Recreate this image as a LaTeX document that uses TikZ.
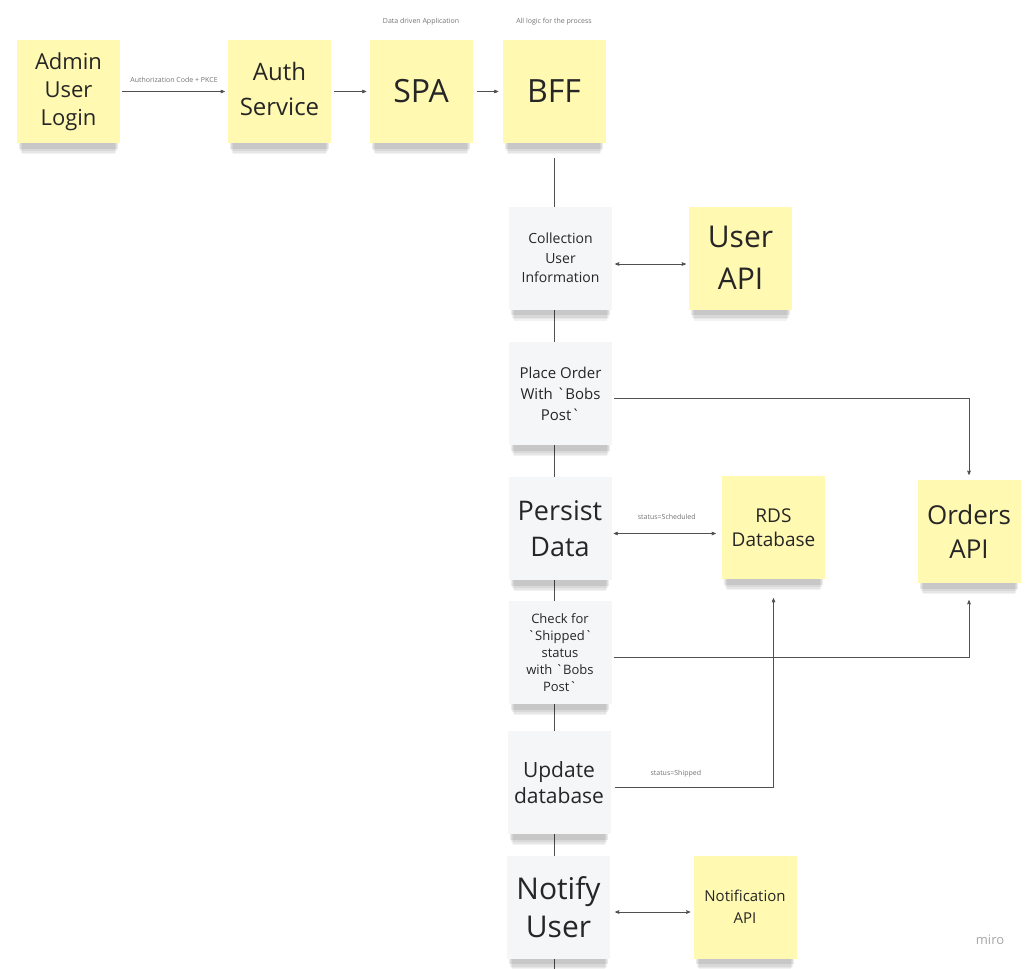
\documentclass[tikz,border=0pt]{standalone}
\usepackage{fontspec}
\setmainfont{Open Sans}[Ligatures=TeXOff]
\usetikzlibrary{positioning, arrows, shadows, backgrounds}
\definecolor{stickyyellow}{HTML}{FFF9B1}
\definecolor{stickygray}{HTML}{F5F6F8}
\definecolor{linegray}{HTML}{505050}
\newcommand\notefont[2]{\fontsize{#1}{#2}\selectfont}
\tikzset{
x=1pt, y=-1pt, % pixel-like coordinates, y going down
>=stealth', % small sharp arrow heads
sticky/.style={minimum width=103pt, minimum height=103pt, inner sep=2pt, align=center, text=black!85,
  general shadow={shadow xshift=0pt, shadow yshift=-18pt, shadow scale=0.9, opacity=0.05, fill=black},
  general shadow={shadow xshift=0pt, shadow yshift=-15pt, shadow scale=0.92, opacity=0.05, fill=black},
  general shadow={shadow xshift=0pt, shadow yshift=-12pt, shadow scale=0.94, opacity=0.06, fill=black},
  general shadow={shadow xshift=0pt, shadow yshift=-8pt, shadow scale=0.96, opacity=0.08, fill=black}},
yellow note/.style={sticky, fill=stickyyellow}, % the services
gray note/.style={sticky, fill=stickygray}, % the steps of the flow
link/.style={draw=linegray, line width=0.6pt},
hint/.style={font=\notefont{7}{8}, text=black!55},
}
\begin{document}
\begin{tikzpicture}
    \useasboundingbox (0,0) rectangle (1031,969);
    % top row
    \node[yellow note, font=\notefont{22}{28}] (admin) at (68.5,91.5) {Admin\\User\\Login};
    \node[yellow note, font=\notefont{24}{35}] (auth) at (279.5,91.5) {Auth\\Service\vphantom{g}};
    \node[yellow note, font=\notefont{32}{40}] (spa) at (421,91.5) {SPA};
    \node[yellow note, font=\notefont{32}{40}] (bff) at (554,91.5) {BFF};
    \node[hint] (spa hint) at (421,22) {Data driven Application};
    \node[hint] (bff hint) at (554,22) {All logic for the process};
    % steps
    \node[gray note, font=\notefont{14}{19.5}] (collect) at (560.5,258) {Collection\\User\\Information};
    \node[gray note, font=\notefont{15}{21}] (place) at (560.5,393.5) {Place Order\\With `Bobs\\Post`};
    \node[gray note, font=\notefont{27}{36}] (persist) at (560,528.5) {Persist\\Data};
    \node[gray note, font=\notefont{13}{17}] (check) at (560,652.5) {Check for\\`Shipped`\\status\\with `Bobs\\Post`};
    \node[gray note, font=\notefont{21}{26}] (update) at (559,782.5) {Update\\database};
    \node[gray note, font=\notefont{30}{38}] (notify) at (558.5,907) {Notify\\User};
    % services
    \node[yellow note, font=\notefont{30}{42}] (user api) at (740.5,258) {User\\API};
    \node[yellow note, font=\notefont{19}{24}] (rds) at (773.5,527.5) {RDS\\Database};
    \node[yellow note, font=\notefont{26}{34}] (orders) at (969,531.5) {Orders\\API};
    \node[yellow note, font=\notefont{15}{22}] (notification) at (745,907) {Notification\\API};
    \node[text=black!35, font=\notefont{13}{15}] (miro mark) at (990,940) {miro};
    % spine behind the steps
    \coordinate (spine end) at (554,969);
    \begin{scope}[on background layer]
        \draw[link, line width=0.8pt] ([yshift=-15pt]bff.south) -- (spine end);
    \end{scope}
    \draw[link, ->, shorten <=2pt, shorten >=3pt]
        (admin) -- node[hint, above=5pt] {Authorization Code + PKCE} (auth);
    \draw[link, ->, shorten <=3pt, shorten >=3pt] (auth) -- (spa);
    \draw[link, ->, shorten <=4pt, shorten >=4pt] (spa) -- (bff);
    \draw[link, <->, shorten <=3pt, shorten >=3pt]
        ([yshift=-6pt]collect.east) -- ([yshift=-6pt]user api.west);
    \draw[link, ->, shorten <=2pt, shorten >=5pt]
        ([yshift=-5pt]place.east) -| (orders.north);
    \draw[link, <->, shorten <=2pt, shorten >=6pt]
        ([yshift=-5pt]persist.east) -- node[hint, above=10pt] {status=Scheduled} ([yshift=-6pt]rds.west);
    \draw[link, ->, shorten <=2pt, shorten >=17pt]
        ([yshift=-5pt]check.east) -| (orders.south);
    \draw[link, ->, shorten <=4pt, shorten >=19pt]
        ([yshift=-5pt]update.east) -| node[hint, pos=0.2, above=7pt] {status=Shipped} (rds.south);
    \draw[link, <->, shorten <=5pt, shorten >=3pt]
        ([yshift=-5pt]notify.east) -- ([yshift=-5pt]notification.west);
\end{tikzpicture}
\end{document}
